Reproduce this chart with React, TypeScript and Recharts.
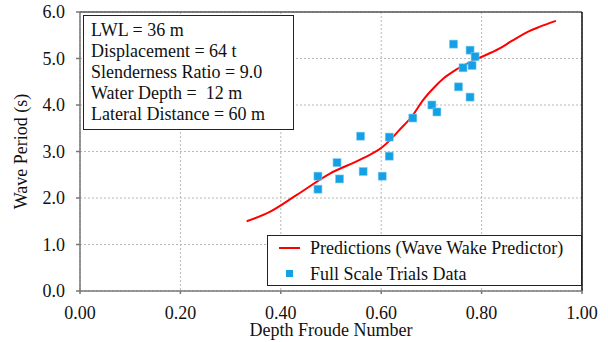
import React from 'react';
import {
  ComposedChart,
  Line,
  Scatter,
  XAxis,
  YAxis,
  CartesianGrid,
  ReferenceLine,
} from 'recharts';

// Predicted wave period vs depth Froude number
const predFroude = [0.332, 0.378, 0.431, 0.497, 0.563, 0.603, 0.617, 0.636, 0.663, 0.683, 0.703, 0.725, 0.749, 0.789, 0.835, 0.862, 0.895, 0.915, 0.948];
const predPeriod = [1.5, 1.7, 2.06, 2.52, 2.85, 3.1, 3.24, 3.46, 3.78, 4.1, 4.35, 4.58, 4.76, 4.98, 5.21, 5.39, 5.59, 5.68, 5.81];

// Full scale trials measurements
const trialFroude = [0.474, 0.474, 0.512, 0.517, 0.559, 0.564, 0.602, 0.616, 0.616, 0.663, 0.701, 0.711, 0.744, 0.754, 0.763, 0.777, 0.777, 0.781, 0.787];
const trialPeriod = [2.47, 2.19, 2.76, 2.41, 3.33, 2.57, 2.47, 3.31, 2.9, 3.72, 4.0, 3.85, 5.31, 4.39, 4.8, 5.18, 4.17, 4.85, 5.04];

const xTicks = [0, 0.2, 0.4, 0.6, 0.8, 1.0];
const yTicks = [0, 1, 2, 3, 4, 5, 6];

const infoLines = [
  'LWL = 36 m',
  'Displacement = 64 t',
  'Slenderness Ratio = 9.0',
  'Water Depth =  12 m',
  'Lateral Distance = 60 m',
];

const FONT = 'Liberation Serif';
const BLUE = '#14A0E4';
const RED = '#FF0000';

const lineData = predFroude.map((x, i) => ({ x, y: predPeriod[i] }));
const scatterData = trialFroude.map((x, i) => ({ x, y: trialPeriod[i] }));

const SquareDot = (props: any) => {
  const { cx, cy } = props;
  if (cx == null || cy == null) return null;
  return <rect x={cx - 4} y={cy - 4} width={8} height={8} fill={BLUE} stroke="#7CCBF2" strokeWidth={0.6} />;
};

export default function App() {
  return (
    <div style={{ position: 'relative', width: 608, height: 342, background: '#fff', fontFamily: FONT }}>
      <style>{'body{margin:0}'}</style>
      <ComposedChart width={608} height={342} margin={{ top: 12, right: 26, left: 0, bottom: 21 }}>
        <CartesianGrid stroke="#b8b8b8" strokeDasharray="2 2" />
        <XAxis
          type="number"
          dataKey="x"
          domain={[0, 1]}
          ticks={xTicks}
          tickFormatter={(v: number) => v.toFixed(2)}
          tick={{ fill: '#111', fontSize: 18, fontFamily: FONT }}
          tickSize={3}
          tickMargin={12}
          stroke="#777"
          strokeWidth={1.5}
          height={30}
          allowDataOverflow
          label={{ value: 'Depth Froude Number', position: 'insideBottom', offset: -14.5, fill: '#111', fontSize: 18, fontFamily: FONT }}
        />
        <YAxis
          type="number"
          dataKey="y"
          domain={[0, 6]}
          ticks={yTicks}
          tickFormatter={(v: number) => v.toFixed(1)}
          tick={{ fill: '#111', fontSize: 18, fontFamily: FONT }}
          tickSize={4}
          tickMargin={11}
          stroke="#777"
          strokeWidth={1.5}
          width={80}
          allowDataOverflow
          label={{ value: 'Wave Period  (s)', angle: -90, position: 'insideLeft', offset: 21, style: { textAnchor: 'middle' }, fill: '#111', fontSize: 18, fontFamily: FONT }}
        />
        <ReferenceLine y={6} stroke="#555" strokeWidth={1.5} />
        <ReferenceLine x={1} stroke="#111" strokeWidth={1.5} />
        <Line
          data={lineData}
          dataKey="y"
          type="monotone"
          stroke={RED}
          strokeWidth={2}
          dot={false}
          isAnimationActive={false}
          name="Predictions (Wave Wake Predictor)"
        />
        <Scatter
          data={scatterData}
          dataKey="y"
          shape={SquareDot}
          isAnimationActive={false}
          name="Full Scale Trials Data"
        />
      </ComposedChart>
      <div
        style={{
          position: 'absolute',
          left: 83,
          top: 15,
          width: 211,
          height: 115,
          border: '1.5px solid #222',
          background: '#fff',
          boxSizing: 'border-box',
          padding: '4px 0 0 7px',
          fontSize: 18,
          lineHeight: '21px',
          color: '#111',
          fontFamily: FONT,
        }}
      >
        {infoLines.map((t) => (
          <div key={t} style={{ whiteSpace: 'pre' }}>{t}</div>
        ))}
      </div>
      <div
        style={{
          position: 'absolute',
          left: 267,
          top: 235,
          width: 315,
          height: 51,
          border: '1.5px solid #222',
          background: '#fff',
          boxSizing: 'border-box',
          fontFamily: FONT,
          fontSize: 18,
          color: '#111',
        }}
      >
        <div style={{ position: 'absolute', left: 10.5, top: 0.5, display: 'flex', alignItems: 'center', whiteSpace: 'nowrap', height: 22, lineHeight: '22px' }}>
          <span style={{ display: 'inline-block', width: 21, height: 2, background: RED, marginRight: 10.5 }} />
          Predictions (Wave Wake Predictor)
        </div>
        <div style={{ position: 'absolute', left: 10.5, top: 26.8, display: 'flex', alignItems: 'center', whiteSpace: 'nowrap', height: 22, lineHeight: '22px' }}>
          <span style={{ display: 'inline-block', width: 7, height: 7, background: BLUE, marginLeft: 7, marginRight: 17.5 }} />
          Full Scale Trials Data
        </div>
      </div>
    </div>
  );
}
